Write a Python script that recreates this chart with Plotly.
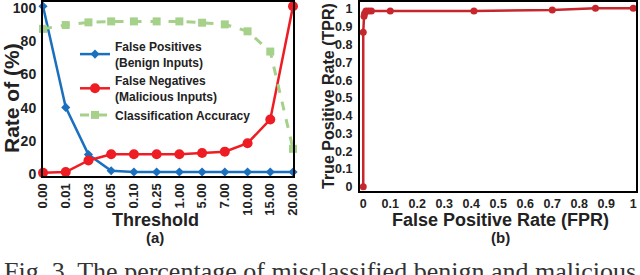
import plotly.graph_objects as go

# ---- data (a) ----
thresholds = ["0.00", "0.01", "0.03", "0.05", "0.10", "0.25", "1.00", "5.00", "7.00", "10.00", "15.00", "20.00"]
false_positives = [100, 39, 10.5, 0.8, 0, 0, 0, 0, 0, 0, 0, 0]
false_negatives = [-0.5, 0, 7, 10.7, 10.7, 10.7, 10.7, 11.5, 12.3, 17.4, 31.7, 100]
accuracy = [86.4, 88.7, 90.3, 90.9, 90.9, 90.9, 90.9, 90.1, 89.1, 84.9, 72.7, 14]
left_yticks = [0, 20, 40, 60, 80, 100]

# ---- data (b) ----
fpr = [0, 0, 0.003, 0.005, 0.01, 0.02, 0.03, 0.1, 0.41, 0.7, 0.86, 1.0]
tpr = [0, 0.87, 0.96, 0.975, 0.99, 0.99, 0.99, 0.99, 0.99, 0.995, 1.005, 1.005]
right_ticks = [0, 0.1, 0.2, 0.3, 0.4, 0.5, 0.6, 0.7, 0.8, 0.9, 1]
right_ticktext = ["0", "0.1", "0.2", "0.3", "0.4", "0.5", "0.6", "0.7", "0.8", "0.9", "1"]

W, H = 640, 275
FONT = "Liberation Sans"

def px_x(p):
    return p / W

def px_y(p):
    return 1 - p / H

BLUE = "#1b6fbf"
RED = "#ee1d24"
GREEN = "#a6d18a"
DARKRED = "#c8262d"

fig = go.Figure()

fig.add_trace(go.Scatter(
    x=thresholds, y=false_positives, mode="lines+markers",
    name="<b>False Positives</b><br><b>(Benign Inputs)</b>",
    line=dict(color=BLUE, width=2.5),
    marker=dict(symbol="diamond", size=7, color=BLUE),
    xaxis="x", yaxis="y", cliponaxis=False,
))
fig.add_trace(go.Scatter(
    x=thresholds, y=false_negatives, mode="lines+markers",
    name="<b>False Negatives</b><br><b>(Malicious Inputs)</b>",
    line=dict(color=RED, width=2.5),
    marker=dict(symbol="circle", size=10, color=RED),
    xaxis="x", yaxis="y", cliponaxis=False,
))
fig.add_trace(go.Scatter(
    x=thresholds, y=accuracy, mode="lines+markers",
    name="<b>Classification Accuracy</b>",
    line=dict(color=GREEN, width=3, dash="dash"),
    marker=dict(symbol="square", size=8, color=GREEN),
    xaxis="x", yaxis="y", cliponaxis=False,
))
fig.add_trace(go.Scatter(
    x=fpr, y=tpr, mode="lines+markers", showlegend=False,
    line=dict(color=DARKRED, width=2.5),
    marker=dict(symbol="circle", size=7, color=DARKRED),
    xaxis="x2", yaxis="y2", cliponaxis=False,
))

axis_common = dict(showgrid=False, zeroline=False, showline=True, linecolor="black",
                   linewidth=2, mirror=True, ticks="", automargin=False,
                   ticklabeloverflow="allow")

fig.update_layout(
    width=W, height=H,
    margin=dict(l=0, r=0, t=0, b=0),
    paper_bgcolor="white", plot_bgcolor="white",
    font=dict(family=FONT, color="#222222"),
    xaxis=dict(domain=[px_x(43), px_x(293)], anchor="y", type="category",
               range=[0, 11], tickangle=-90,
               tickfont=dict(family=FONT, size=13, color="#222222", weight="bold"),
               **axis_common),
    yaxis=dict(domain=[px_y(176), px_y(2)], anchor="x",
               range=[-2.4, 102.6], tickvals=left_yticks,
               tickfont=dict(family=FONT, size=14, color="#222222", weight="bold"),
               ticklabelstandoff=2, ticklabelshift=2,
               **axis_common),
    xaxis2=dict(domain=[px_x(360), px_x(636)], anchor="y2",
                range=[-0.012, 1.01], tickvals=right_ticks, ticktext=right_ticktext,
                tickfont=dict(family=FONT, size=12.5, color="#222222", weight="bold"),
                **axis_common),
    yaxis2=dict(domain=[px_y(191), px_y(2)], anchor="x2",
                range=[-0.024, 1.04], tickvals=right_ticks, ticktext=right_ticktext,
                tickfont=dict(family=FONT, size=12.5, color="#222222", weight="bold"),
                ticklabelstandoff=3,
                **axis_common),
    legend=dict(x=px_x(75), y=px_y(32), xanchor="left", yanchor="top",
                bgcolor="rgba(0,0,0,0)", borderwidth=0,
                font=dict(family=FONT, size=12, color="#222222"),
                itemwidth=30, tracegroupgap=0),
)

annotations = [
    dict(text="<b>Threshold</b>", x=px_x(155), y=px_y(220), font=dict(size=18)),
    dict(text="<b>(a)</b>", x=px_x(155), y=px_y(237), font=dict(size=15)),
    dict(text="<b>False Positive Rate (FPR)</b>", x=px_x(500), y=px_y(220), font=dict(size=18)),
    dict(text="<b>(b)</b>", x=px_x(500), y=px_y(237), font=dict(size=15)),
    dict(text="<b>Rate of (%)</b>", x=px_x(11), y=px_y(98), textangle=-90, font=dict(size=21)),
    dict(text="<b>True Positive Rate (TPR)</b>", x=px_x(328), y=px_y(96), textangle=-90, font=dict(size=16)),
]
for a in annotations:
    fig.add_annotation(xref="paper", yref="paper", showarrow=False,
                       xanchor="center", yanchor="middle", **a)

fig.add_annotation(xref="paper", yref="paper", showarrow=False,
                   text="Fig. 3. The percentage of misclassified benign and malicious",
                   x=px_x(2), y=px_y(255), xanchor="left", yanchor="top",
                   font=dict(family="Liberation Serif", size=26, color="#333333"))

fig.write_html("out.html", config={"displayModeBar": False},
               post_script="document.body.style.margin='0';")
